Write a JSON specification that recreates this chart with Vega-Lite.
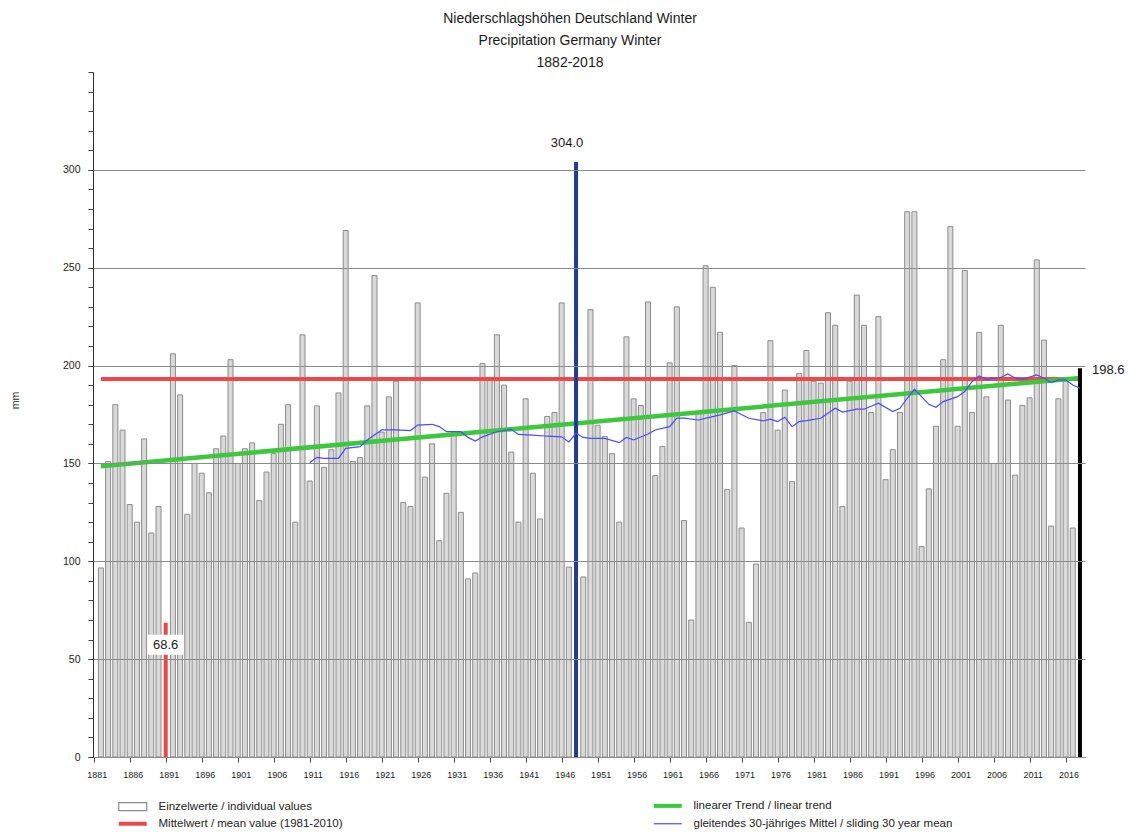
{
  "$schema": "https://vega.github.io/schema/vega-lite/v6.json",
  "width": 992,
  "height": 685,
  "autosize": {"type": "none"},
  "padding": {"left": 93, "top": 72, "right": 55, "bottom": 75},
  "background": "white",
  "config": {"font": "Liberation Sans", "view": {"stroke": null}, "axisX": {"labelOverlap": false}, "scale": {"continuousPadding": 0}},
  "title": {
    "text": ["Niederschlagshöhen Deutschland Winter", "Precipitation Germany Winter", "1882-2018"],
    "fontSize": 14, "fontWeight": "normal", "lineHeight": 22, "anchor": "middle",
    "dx": -19, "offset": -12, "color": "#1a1a1a", "font": "Liberation Sans", "baseline": "bottom"
  },
  "datasets": {
    "bars": [
      {"year":1882,"value":96.6},{"year":1883,"value":151},{"year":1884,"value":180},{"year":1885,"value":167},
      {"year":1886,"value":129},{"year":1887,"value":120},{"year":1888,"value":162.5},{"year":1889,"value":114.5},
      {"year":1890,"value":128},{"year":1891,"value":68.6,"note":"minimum"},{"year":1892,"value":206},{"year":1893,"value":185},
      {"year":1894,"value":124},{"year":1895,"value":150},{"year":1896,"value":145},{"year":1897,"value":135},
      {"year":1898,"value":157.5},{"year":1899,"value":164},{"year":1900,"value":203},{"year":1901,"value":150},
      {"year":1902,"value":157.5},{"year":1903,"value":160.5},{"year":1904,"value":131},{"year":1905,"value":145.6},
      {"year":1906,"value":155},{"year":1907,"value":170},{"year":1908,"value":180},{"year":1909,"value":120},
      {"year":1910,"value":215.7},{"year":1911,"value":141},{"year":1912,"value":179.4},{"year":1913,"value":148},
      {"year":1914,"value":157},{"year":1915,"value":186},{"year":1916,"value":269},{"year":1917,"value":151},
      {"year":1918,"value":153},{"year":1919,"value":179.4},{"year":1920,"value":246},{"year":1921,"value":166},
      {"year":1922,"value":184},{"year":1923,"value":192},{"year":1924,"value":130},{"year":1925,"value":128},
      {"year":1926,"value":232},{"year":1927,"value":143},{"year":1928,"value":160},{"year":1929,"value":110.5},
      {"year":1930,"value":134.7},{"year":1931,"value":166},{"year":1932,"value":125},{"year":1933,"value":91},
      {"year":1934,"value":94},{"year":1935,"value":201},{"year":1936,"value":193},{"year":1937,"value":215.7},
      {"year":1938,"value":190},{"year":1939,"value":155.8},{"year":1940,"value":120},{"year":1941,"value":183},
      {"year":1942,"value":145},{"year":1943,"value":121.6},{"year":1944,"value":174},{"year":1945,"value":176},
      {"year":1946,"value":232},{"year":1947,"value":97},{"year":1948,"value":304.0,"note":"maximum"},{"year":1949,"value":92},
      {"year":1950,"value":228.6},{"year":1951,"value":169.5},{"year":1952,"value":163.7},{"year":1953,"value":155},
      {"year":1954,"value":120},{"year":1955,"value":214.7},{"year":1956,"value":183},{"year":1957,"value":179.6},
      {"year":1958,"value":232.5},{"year":1959,"value":143.8},{"year":1960,"value":158.7},{"year":1961,"value":201.4},
      {"year":1962,"value":230},{"year":1963,"value":120.8},{"year":1964,"value":70},{"year":1965,"value":176},
      {"year":1966,"value":251},{"year":1967,"value":240},{"year":1968,"value":217},{"year":1969,"value":136.7},
      {"year":1970,"value":200},{"year":1971,"value":117},{"year":1972,"value":68.8},{"year":1973,"value":98.6},
      {"year":1974,"value":176},{"year":1975,"value":212.7},{"year":1976,"value":167},{"year":1977,"value":187.5},
      {"year":1978,"value":140.7},{"year":1979,"value":196},{"year":1980,"value":207.7},{"year":1981,"value":192},
      {"year":1982,"value":191},{"year":1983,"value":227},{"year":1984,"value":220.6},{"year":1985,"value":128},
      {"year":1986,"value":192},{"year":1987,"value":236},{"year":1988,"value":220.6},{"year":1989,"value":176},
      {"year":1990,"value":225},{"year":1991,"value":141.7},{"year":1992,"value":157},{"year":1993,"value":176},
      {"year":1994,"value":278.6},{"year":1995,"value":278.6},{"year":1996,"value":107.5},{"year":1997,"value":137},
      {"year":1998,"value":169},{"year":1999,"value":203},{"year":2000,"value":271},{"year":2001,"value":169},
      {"year":2002,"value":248.6},{"year":2003,"value":176},{"year":2004,"value":217},{"year":2005,"value":184},
      {"year":2006,"value":150},{"year":2007,"value":220.6},{"year":2008,"value":182.4},{"year":2009,"value":144},
      {"year":2010,"value":179.6},{"year":2011,"value":183.5},{"year":2012,"value":254},{"year":2013,"value":213},
      {"year":2014,"value":118},{"year":2015,"value":183},{"year":2016,"value":192},{"year":2017,"value":117},
      {"year":2018,"value":198.6,"note":"latest"}
    ],
    "ma": [
      {"year":1911,"value":150.4},{"year":1912,"value":153.1},{"year":1913,"value":152.6},{"year":1915,"value":152.6},
      {"year":1916,"value":157.7},{"year":1918,"value":158.6},{"year":1919,"value":162},{"year":1921,"value":167.1},
      {"year":1923,"value":167.1},{"year":1925,"value":166.8},{"year":1926,"value":169.6},{"year":1928,"value":170},
      {"year":1929,"value":168.8},{"year":1930,"value":166.2},{"year":1932,"value":166.2},{"year":1933,"value":163.3},
      {"year":1934,"value":161.4},{"year":1935,"value":163.6},{"year":1937,"value":166.2},{"year":1939,"value":167.4},
      {"year":1940,"value":164.8},{"year":1942,"value":164.5},{"year":1944,"value":163.9},{"year":1946,"value":163.6},
      {"year":1947,"value":161},{"year":1948,"value":165.4},{"year":1949,"value":163.3},{"year":1950,"value":162.8},
      {"year":1952,"value":162.8},{"year":1954,"value":160.6},{"year":1955,"value":163.3},{"year":1956,"value":162},
      {"year":1958,"value":165},{"year":1959,"value":167.1},{"year":1961,"value":168.8},{"year":1962,"value":173.1},
      {"year":1963,"value":173.1},{"year":1965,"value":172.2},{"year":1967,"value":173.9},{"year":1968,"value":174.8},
      {"year":1970,"value":176.8},{"year":1972,"value":173.1},{"year":1974,"value":171.7},{"year":1975,"value":172.6},
      {"year":1976,"value":171.4},{"year":1977,"value":173.6},{"year":1978,"value":168.8},{"year":1979,"value":171.4},
      {"year":1980,"value":171.9},{"year":1982,"value":173.1},{"year":1984,"value":178.2},{"year":1985,"value":176.2},
      {"year":1987,"value":177.7},{"year":1988,"value":177.7},{"year":1990,"value":180.8},{"year":1992,"value":176.5},
      {"year":1993,"value":178.2},{"year":1994,"value":183.3},{"year":1995,"value":187.9},{"year":1996,"value":184.1},
      {"year":1997,"value":180.2},{"year":1998,"value":178.7},{"year":1999,"value":181.6},{"year":2001,"value":184.1},
      {"year":2002,"value":186.7},{"year":2003,"value":191.8},{"year":2004,"value":194.7},{"year":2005,"value":193},
      {"year":2007,"value":193.9},{"year":2008,"value":195.7},{"year":2009,"value":193.5},{"year":2010,"value":193},
      {"year":2012,"value":195.2},{"year":2013,"value":193.5},{"year":2014,"value":191.3},{"year":2015,"value":192.7},
      {"year":2016,"value":192.7},{"year":2017,"value":190.1},{"year":2018,"value":188.4}
    ],
    "mean": [{"year":1882,"value":193.2},{"year":2018,"value":193.2}],
    "trend": [{"year":1882,"value":148.6},{"year":2018,"value":193.7}]
  },
  "layer": [
    {
      "data": {"name": "bars"},
      "transform": [{"filter": "!isValid(datum.note)"}],
      "mark": {"type": "bar", "orient": "vertical", "size": 5, "fill": "#d9d9d9", "strokeWidth": 1},
      "encoding": {
        "x": {"field": "year", "type": "quantitative",
          "scale": {"domain": [1880.9, 2018.7], "nice": false, "zero": false, "padding": 0},
          "axis": {"values": [1881,1886,1891,1896,1901,1906,1911,1916,1921,1926,1931,1936,1941,1946,1951,1956,1961,1966,1971,1976,1981,1986,1991,1996,2001,2006,2011,2016],
            "tickCount": 60, "format": "d", "grid": false, "title": null, "labelFontSize": 9, "labelFont": "Liberation Sans",
            "tickSize": 5, "labelPadding": 8, "labelOffset": 3, "domainColor": "#333", "tickColor": "#444", "labelColor": "#222",
            "labelFlush": false, "labelOverlap": false, "labelBound": false}},
        "y": {"field": "value", "type": "quantitative", "stack": null,
          "scale": {"domain": [0, 350], "nice": false, "zero": false, "padding": 0},
          "axis": {"values": [0,50,100,150,200,250,300], "tickCount": 20, "format": "d", "grid": true, "gridColor": "#8a8a8a", "gridWidth": 1,
            "zindex": 1, "title": "mm", "titleX": -78, "titleY": 328, "titleAngle": -90, "titleFontSize": 10.5,
            "titleFontWeight": "normal", "titleFont": "Liberation Sans", "titleColor": "#222", "titleAlign": "center", "titleBaseline": "middle",
            "labelFontSize": 10.5, "labelFont": "Liberation Sans", "labelColor": "#222", "labelPadding": 8, "tickSize": 5,
            "tickColor": "#444", "domainColor": "#333", "orient": "left"}},
        "stroke": {"datum": "Einzelwerte / individual values",
          "scale": {"domain": ["Einzelwerte / individual values", "Mittelwert / mean value (1981-2010)", "linearer Trend / linear trend", "gleitendes 30-jähriges Mittel / sliding 30 year mean"],
                    "range": ["#8c8c8c", "#f04848", "#3cc83c", "#4a4aff"]},
          "legend": {"title": null, "orient": "none", "legendX": 34, "legendY": 728, "columns": 2, "columnPadding": 302,
            "rowPadding": 1, "symbolSize": 100, "labelFontSize": 11.5, "labelFont": "Liberation Sans", "labelColor": "#222",
            "labelOffset": 20, "padding": 0, "labelLimit": 400, "symbolType": "M-2.8,0H2.8", "symbolStrokeWidth": 4,
            "encoding": {"symbols": {
              "shape": {"value": {"expr": "datum.value === 'Einzelwerte / individual values' ? 'M-2.8,-0.8H2.8V0.8H-2.8Z' : 'M-2.8,0H2.8'"}},
              "strokeWidth": {"value": {"expr": "datum.value === 'Einzelwerte / individual values' ? 1.2 : (datum.value === 'gleitendes 30-jähriges Mittel / sliding 30 year mean' ? 1.2 : 4)"}},
              "fill": {"value": {"expr": "datum.value === 'Einzelwerte / individual values' ? '#ffffff' : 'transparent'"}},
              "fillOpacity": {"value": 1}, "strokeOpacity": {"value": 1}, "opacity": {"value": 1}
            }}}
        }
      }
    },
    {
      "data": {"name": "mean"},
      "mark": {"type": "line", "strokeWidth": 4},
      "encoding": {
        "x": {"field": "year", "type": "quantitative", "scale": {"domain": [1880.9, 2018.7], "nice": false, "zero": false, "padding": 0}},
        "y": {"field": "value", "type": "quantitative", "scale": {"domain": [0, 350], "nice": false, "zero": false, "padding": 0},
          "axis": {"values": [0,10,20,30,40,50,60,70,80,90,100,110,120,130,140,150,160,170,180,190,200,210,220,230,240,250,260,270,280,290,300,310,320,330,340,350],
            "tickCount": 80, "labels": false, "grid": false, "tickSize": 5, "title": null, "domain": true, "domainColor": "#333", "tickColor": "#444", "orient": "left"}},
        "stroke": {"datum": "Mittelwert / mean value (1981-2010)"}
      }
    },
    {
      "data": {"name": "trend"},
      "mark": {"type": "line", "strokeWidth": 4.5},
      "encoding": {
        "x": {"field": "year", "type": "quantitative", "scale": {"domain": [1880.9, 2018.7], "nice": false, "zero": false, "padding": 0}},
        "y": {"field": "value", "type": "quantitative", "scale": {"domain": [0, 350], "nice": false, "zero": false, "padding": 0}, "axis": null},
        "stroke": {"datum": "linearer Trend / linear trend"}
      }
    },
    {
      "data": {"name": "bars"},
      "transform": [{"filter": "isValid(datum.note)"}],
      "mark": {"type": "rule", "strokeWidth": 4},
      "encoding": {
        "x": {"field": "year", "type": "quantitative", "scale": {"domain": [1880.9, 2018.7], "nice": false, "zero": false, "padding": 0}},
        "y": {"field": "value", "type": "quantitative", "scale": {"domain": [0, 350], "nice": false, "zero": false, "padding": 0}, "axis": null},
        "y2": {"datum": 0},
        "color": {"field": "note", "type": "nominal", "scale": {"domain": ["minimum", "maximum", "latest"], "range": ["#f04444", "#1f3c9c", "#000000"]}, "legend": null}
      }
    },
    {
      "data": {"name": "ma"},
      "mark": {"type": "line", "strokeWidth": 1.2},
      "encoding": {
        "x": {"field": "year", "type": "quantitative", "scale": {"domain": [1880.9, 2018.7], "nice": false, "zero": false, "padding": 0}},
        "y": {"field": "value", "type": "quantitative", "scale": {"domain": [0, 350], "nice": false, "zero": false, "padding": 0}, "axis": null},
        "stroke": {"datum": "gleitendes 30-jähriges Mittel / sliding 30 year mean"}
      }
    },
    {
      "data": {"name": "bars"},
      "transform": [{"filter": "datum.note === 'minimum'"}],
      "mark": {"type": "point", "shape": "M-1,-0.55H1V0.55H-1Z", "size": 1296, "filled": true, "fill": "#ffffff", "opacity": 1, "strokeWidth": 0, "yOffset": 22},
      "encoding": {
        "x": {"field": "year", "type": "quantitative", "scale": {"domain": [1880.9, 2018.7], "nice": false, "zero": false, "padding": 0}},
        "y": {"field": "value", "type": "quantitative", "scale": {"domain": [0, 350], "nice": false, "zero": false, "padding": 0}, "axis": null}
      }
    },
    {
      "data": {"name": "bars"},
      "transform": [{"filter": "datum.note === 'minimum'"}],
      "mark": {"type": "text", "fontSize": 13, "font": "Liberation Sans", "color": "#1a1a1a", "dy": 22, "baseline": "middle", "align": "center"},
      "encoding": {
        "x": {"field": "year", "type": "quantitative", "scale": {"domain": [1880.9, 2018.7], "nice": false, "zero": false, "padding": 0}},
        "y": {"field": "value", "type": "quantitative", "scale": {"domain": [0, 350], "nice": false, "zero": false, "padding": 0}, "axis": null},
        "text": {"field": "value", "type": "quantitative", "format": ".1f"}
      }
    },
    {
      "data": {"name": "bars"},
      "transform": [{"filter": "datum.note === 'maximum'"}],
      "mark": {"type": "text", "fontSize": 13, "font": "Liberation Sans", "color": "#1a1a1a", "dy": -19, "dx": -9, "baseline": "middle", "align": "center"},
      "encoding": {
        "x": {"field": "year", "type": "quantitative", "scale": {"domain": [1880.9, 2018.7], "nice": false, "zero": false, "padding": 0}},
        "y": {"field": "value", "type": "quantitative", "scale": {"domain": [0, 350], "nice": false, "zero": false, "padding": 0}, "axis": null},
        "text": {"field": "value", "type": "quantitative", "format": ".1f"}
      }
    },
    {
      "data": {"name": "bars"},
      "transform": [{"filter": "datum.note === 'latest'"}],
      "mark": {"type": "text", "fontSize": 13, "font": "Liberation Sans", "color": "#1a1a1a", "dx": 12, "dy": 2, "baseline": "middle", "align": "left"},
      "encoding": {
        "x": {"field": "year", "type": "quantitative", "scale": {"domain": [1880.9, 2018.7], "nice": false, "zero": false, "padding": 0}},
        "y": {"field": "value", "type": "quantitative", "scale": {"domain": [0, 350], "nice": false, "zero": false, "padding": 0}, "axis": null},
        "text": {"field": "value", "type": "quantitative", "format": ".1f"}
      }
    }
  ],
  "resolve": {"axis": {"y": "independent"}}
}
